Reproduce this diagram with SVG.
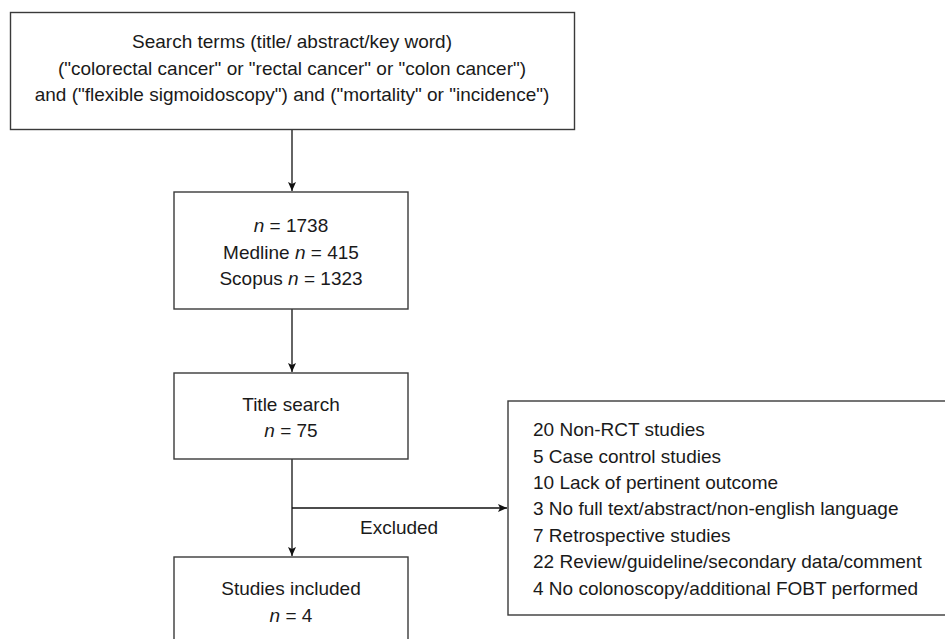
<svg xmlns="http://www.w3.org/2000/svg" width="945" height="639" viewBox="0 0 945 639">
<style>
.box{fill:#fff;stroke:#3a3a3a;stroke-width:1.4}
.t{font-family:"Liberation Sans",Arial,sans-serif;font-size:19px;fill:#1a1a1a}
.c{text-anchor:middle}
.i{font-style:italic}
.ln{stroke:#111;stroke-width:1.3;fill:none}
</style>
<defs>
<marker id="ah" markerWidth="10" markerHeight="10" refX="9" refY="5" orient="auto" markerUnits="userSpaceOnUse">
<path d="M0,1 L9,5 L0,9 L2,5 Z" fill="#111"/>
</marker>
</defs>
<rect width="945" height="639" fill="#fff"/>
<g id="connectors">
<line class="ln" x1="292" y1="130" x2="292" y2="191" marker-end="url(#ah)"/>
<line class="ln" x1="292" y1="309" x2="292" y2="372" marker-end="url(#ah)"/>
<line class="ln" x1="292" y1="459" x2="292" y2="556" marker-end="url(#ah)"/>
<line class="ln" x1="292" y1="508" x2="507" y2="508" marker-end="url(#ah)"/>
<text class="t" x="360" y="534">Excluded</text>
</g>
<g id="search">
<rect class="box" x="10.5" y="12.5" width="564" height="117"/>
<text class="t c" x="292" y="48">Search terms (title/ abstract/key word)</text>
<text class="t c" x="292" y="75">("colorectal cancer" or "rectal cancer" or "colon cancer")</text>
<text class="t c" x="292" y="101">and ("flexible sigmoidoscopy") and ("mortality" or "incidence")</text>
</g>
<g id="records">
<rect class="box" x="174" y="192" width="234" height="117"/>
<text class="t c" x="291" y="232"><tspan class="i">n</tspan> = 1738</text>
<text class="t c" x="291" y="259">Medline <tspan class="i">n</tspan> = 415</text>
<text class="t c" x="291" y="285">Scopus <tspan class="i">n</tspan> = 1323</text>
</g>
<g id="title">
<rect class="box" x="174" y="373" width="234" height="86"/>
<text class="t c" x="291" y="411">Title search</text>
<text class="t c" x="291" y="437"><tspan class="i">n</tspan> = 75</text>
</g>
<g id="included">
<rect class="box" x="174" y="557" width="234" height="90"/>
<text class="t c" x="291" y="595">Studies included</text>
<text class="t c" x="291" y="622"><tspan class="i">n</tspan> = 4</text>
</g>
<g id="excluded">
<rect class="box" x="508" y="401" width="450" height="214"/>
<text class="t" x="533" y="436">20 Non-RCT studies</text>
<text class="t" x="533" y="463">5 Case control studies</text>
<text class="t" x="533" y="489">10 Lack of pertinent outcome</text>
<text class="t" x="533" y="515">3 No full text/abstract/non-english language</text>
<text class="t" x="533" y="542">7 Retrospective studies</text>
<text class="t" x="533" y="568">22 Review/guideline/secondary data/comment</text>
<text class="t" x="533" y="595">4 No colonoscopy/additional FOBT performed</text>
</g>
</svg>
